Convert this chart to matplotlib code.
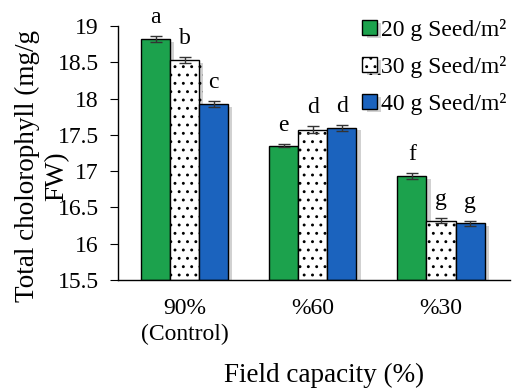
import matplotlib
matplotlib.use("Agg")
import matplotlib.pyplot as plt
import matplotlib.patheffects as pe
import numpy as np

plt.rcParams['font.family'] = ['Liberation Serif', 'DejaVu Serif']
plt.rcParams['hatch.linewidth'] = 0.9

categories = ["90%\n(Control)", "%60", "%30"]
series_names = ["20 g Seed/m²", "30 g Seed/m²", "40 g Seed/m²"]
vals_20 = [18.82, 17.35, 16.93]
vals_30 = [18.53, 17.57, 16.32]
vals_40 = [17.93, 17.60, 16.28]
err_20 = [0.04, 0.02, 0.04]
err_30 = [0.04, 0.05, 0.03]
err_40 = [0.04, 0.04, 0.03]
letters_20 = ["a", "e", "f"]
letters_30 = ["b", "d", "g"]
letters_40 = ["c", "d", "g"]
ylabel_lines = ["Total cholorophyll (mg/g", "FW)"]
xlabel = "Field capacity (%)"

fig = plt.figure(figsize=(5.12, 3.9), dpi=100)
ax = fig.add_axes([0.2305, 0.282, 0.766, 0.651])

x = np.arange(len(categories))
w = 0.227
green = '#1CA24D'
blue = '#1B63BE'
fs = 17
fs_lab = 19.5

series = [
    (vals_20, err_20, letters_20, dict(color=green, hatch=None)),
    (vals_30, err_30, letters_30, dict(color='white', hatch='..')),
    (vals_40, err_40, letters_40, dict(color=blue, hatch=None)),
]
offsets = [-w, 0, w]
handles = []
shadow = [pe.SimplePatchShadow(offset=(3, -2), shadow_rgbFace='#999999', alpha=0.45), pe.Normal()]
for (vals, errs, lets, st), off, name in zip(series, offsets, series_names):
    b = ax.bar(x + off, np.array(vals) - 15.5, w, bottom=15.5,
               color=st['color'], hatch=st['hatch'], edgecolor='black',
               linewidth=1.0, label=name, zorder=2)
    for p in b.patches:
        p.set_path_effects(shadow)
    ax.errorbar(x + off, vals, yerr=errs, fmt='none', ecolor='#333333',
                elinewidth=1.0, capsize=4, capthick=1.0, zorder=3)
    for xi, v, e, l in zip(x + off, vals, errs, lets):
        ax.text(xi, v + e + 0.18, l, ha='center', va='baseline', fontsize=fs)
    handles.append(b)

ax.set_ylim(15.5, 19)
ax.set_yticks([15.5, 16, 16.5, 17, 17.5, 18, 18.5, 19])
ax.set_yticklabels(['15.5', '16', '16.5', '17', '17.5', '18', '18.5', '19'], fontsize=fs)
ax.set_xlim(-0.52, 2.54)
ax.set_xticks(x)
ax.set_xticklabels(categories, fontsize=fs, linespacing=1.3)
ax.tick_params(axis='x', length=0, pad=13)
ax.tick_params(axis='y', length=6, direction='out', pad=8)
for s in ['top', 'right']:
    ax.spines[s].set_visible(False)
ax.spines['left'].set_linewidth(1.0)
ax.spines['bottom'].set_linewidth(1.0)

fig.text(27 / 512, 1 - 166 / 390, ylabel_lines[0], rotation=90,
         ha='center', va='center', fontsize=fs_lab)
fig.text(57 / 512, 1 - 176 / 390, ylabel_lines[1], rotation=90,
         ha='center', va='center', fontsize=fs_lab)
fig.text(324 / 512, 1 - 375 / 390, xlabel, ha='center', va='center',
         fontsize=fs_lab)

leg = ax.legend(handles=handles, loc='upper right', bbox_to_anchor=(1.015, 1.065),
                frameon=False, fontsize=fs, handlelength=0.6, handleheight=0.6,
                handletextpad=0.2, labelspacing=0.64, borderaxespad=0)

fig.savefig("out.png", dpi=100)
